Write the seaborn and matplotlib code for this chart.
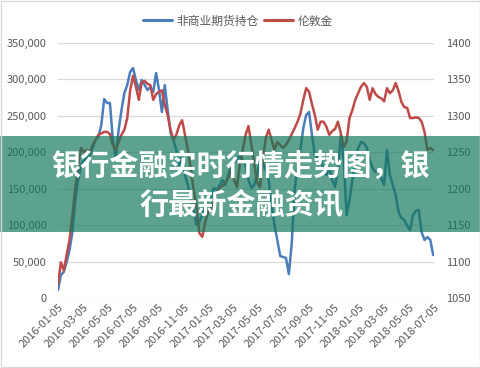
import pandas as pd
import matplotlib
matplotlib.use('Agg')
import matplotlib.pyplot as plt
import matplotlib.dates as mdates
from matplotlib.patches import Rectangle
from matplotlib.lines import Line2D
from matplotlib.ticker import FuncFormatter
import seaborn as sns

# weekly data, first week 2016-01-05
start = '2016-01-05'
positions = [11000, 31600, 35700, 49400, 65900, 90600, 134500, 162000, 182500, 189400,
             192200, 196300, 205900, 216900, 221000, 237400, 273100, 267600, 267600, 216900,
             192200, 230600, 258000, 281400, 292300, 310200, 315700, 299200, 285500, 299200,
             292300, 285500, 289600, 282700, 308800, 285500, 255300, 292300, 258000, 226500,
             216900, 203100, 182500, 196300, 168800, 155100, 137300, 120800, 100200, 104300,
             113900, 127600, 134500, 137300, 151000, 148200, 155100, 162000, 155100, 168800,
             182500, 186700, 189400, 196300, 189400, 182500, 162000, 151000, 155100, 168800,
             189400, 186700, 175700, 162000, 127600, 100200, 79600, 57600, 56300, 54900,
             32900, 75500, 148200, 182500, 203100, 233300, 251200, 255300, 223700, 196300,
             192200, 196300, 172900, 168800, 179800, 162000, 152300, 178400, 223700, 189400,
             113900, 134500, 162000, 189400, 205900, 214100, 212700, 205900, 189400, 178400,
             172900, 175700, 164700, 155100, 203100, 168800, 155100, 141400, 118000, 109800,
             107100, 98800, 93300, 113900, 119400, 120800, 90600, 79600, 83700, 79600,
             59000]
gold = [1069, 1099, 1088, 1109, 1130, 1164, 1201, 1233, 1256, 1250,
        1253, 1250, 1260, 1267, 1274, 1276, 1278, 1278, 1275, 1260,
        1253, 1264, 1274, 1281, 1297, 1335, 1355, 1340, 1322, 1346,
        1348, 1344, 1342, 1322, 1330, 1333, 1335, 1315, 1301, 1281,
        1267, 1274, 1287, 1294, 1274, 1253, 1228, 1198, 1175, 1139,
        1134, 1154, 1168, 1174, 1185, 1195, 1202, 1204, 1208, 1215,
        1226, 1212, 1202, 1233, 1253, 1274, 1286, 1260, 1233, 1209,
        1202, 1239, 1270, 1281, 1267, 1253, 1264, 1260, 1256, 1260,
        1267, 1275, 1283, 1292, 1303, 1322, 1338, 1333, 1316, 1301,
        1281, 1292, 1292, 1285, 1274, 1279, 1282, 1292, 1276, 1257,
        1265, 1297, 1308, 1322, 1331, 1340, 1345, 1340, 1322, 1338,
        1330, 1326, 1324, 1320, 1338, 1331, 1335, 1345, 1334, 1319,
        1312, 1311, 1297, 1297, 1298, 1297, 1292, 1278, 1253, 1256,
        1253]
tick_dates = ['2016-01-05', '2016-03-05', '2016-05-05', '2016-07-05', '2016-09-05',
              '2016-11-05', '2017-01-05', '2017-03-05', '2017-05-05', '2017-07-05',
              '2017-09-05', '2017-11-05', '2018-01-05', '2018-03-05', '2018-05-05',
              '2018-07-05']
series_names = ['非商业期货持仓', '伦敦金']
title = '银行金融实时行情走势图，银\n行最新金融资讯'

df = pd.DataFrame({'date': pd.date_range(start, periods=len(gold), freq='7D'),
                   'pos': positions, 'gold': gold})

sns.set_style('white')
plt.rcParams['font.family'] = ['Noto Sans CJK SC', 'DejaVu Sans']

blue = '#4a7ebb'
red = '#be4b48'
grey = '#595959'

fig = plt.figure(figsize=(4.81, 3.68), dpi=100)
ax = fig.add_axes([58/481, 70/368, 376/481, 255/368])
ax2 = ax.twinx()

sns.lineplot(data=df, x='date', y='pos', ax=ax, color=blue, linewidth=1.8, zorder=2)
sns.lineplot(data=df, x='date', y='gold', ax=ax2, color=red, linewidth=1.8, zorder=3)

ax.set_ylim(0, 350000)
ax2.set_ylim(1050, 1400)
ax.set_yticks(range(0, 350001, 50000))
ax2.set_yticks(range(1050, 1401, 50))
ax.yaxis.set_major_formatter(FuncFormatter(lambda v, p: f'{int(v):,}'))

ticks = pd.to_datetime(tick_dates)
ax.set_xlim(ticks[0], ticks[-1])
ax.set_xticks(ticks)
ax.set_xticklabels(tick_dates, rotation=45, ha='right', rotation_mode='anchor')
ax.xaxis.set_major_formatter(mdates.DateFormatter('%Y-%m-%d'))

for a in (ax, ax2):
    a.set_xlabel('')
    a.set_ylabel('')
    for s in a.spines.values():
        s.set_visible(False)
    a.tick_params(length=0, labelsize=8, colors=grey)
    a.patch.set_visible(False)
ax.tick_params(axis='y', pad=8)
ax2.tick_params(axis='y', pad=9)
ax.tick_params(axis='x', pad=3)
plt.setp(ax.get_xticklabels(), rotation=45, ha='right', rotation_mode='anchor')
ax.grid(axis='y', color='#d9d9d9', linewidth=0.9)
ax.grid(axis='x', visible=False)
ax.set_axisbelow(True)

handles = [Line2D([], [], color=blue, linewidth=2.2), Line2D([], [], color=red, linewidth=2.2)]
fig.legend(handles, series_names, loc='center', bbox_to_anchor=(238/481, 1 - 21/368),
           ncol=2, frameon=False, fontsize=8.5, handlelength=2.4, columnspacing=0.5,
           handletextpad=0.4, labelcolor=grey)

# translucent banner over the chart
fig.patches.append(Rectangle((0, 136/368), 1, 96/368, transform=fig.transFigure,
                             facecolor='#10775a', alpha=0.68, edgecolor='none', zorder=10))
fig.text(241/481, 1 - 186/368, title, ha='center', va='center', multialignment='center',
         color='white', fontsize=21, fontweight='bold', linespacing=1.4, zorder=11)
fig.patches.append(Rectangle((0.002, 0.003), 0.996, 0.994, transform=fig.transFigure,
                             facecolor='none', edgecolor='#d9d9d9', linewidth=1, zorder=12))

fig.savefig('out.png', dpi=100)
